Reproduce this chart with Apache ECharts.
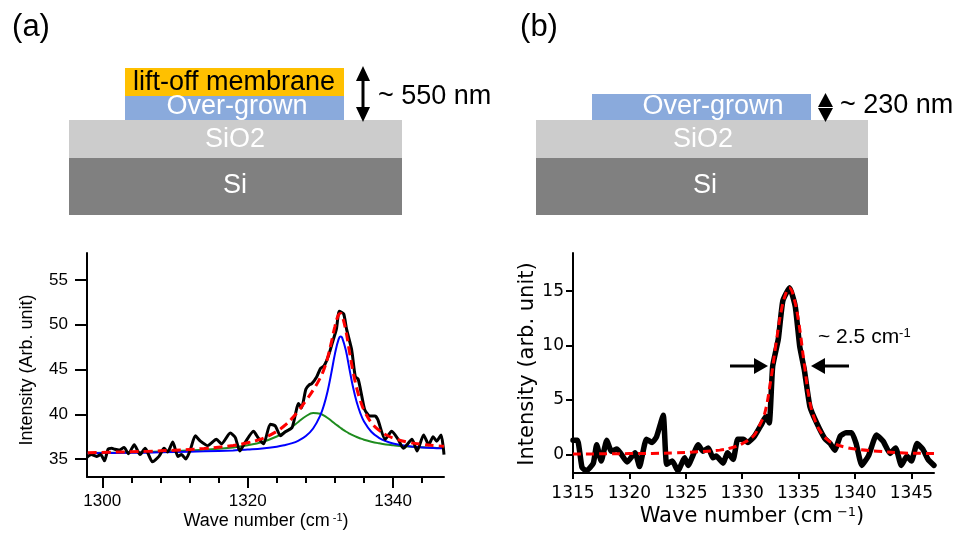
<!DOCTYPE html>
<html><head><meta charset="utf-8">
<script src="https://cdn.jsdelivr.net/npm/echarts@6/dist/echarts.min.js"></script>
<style>html,body{margin:0;padding:0;background:#fff}#c{width:958px;height:536px}</style>
</head><body><div id="c"></div>
<script>
// ---------- Panel (a) data ----------
const waveA = [1297.9,1298.5,1299.2,1299.8,1300.3,1300.8,1301.3,1301.7,1302.3,1303.0,1303.6,1304.4,1305.2,1305.9,1306.9,1307.8,1308.5,1309.0,1309.7,1310.4,1310.9,1311.5,1312.1,1312.8,1313.5,1314.5,1315.7,1316.4,1317.6,1318.3,1318.9,1319.6,1320.8,1321.5,1322.2,1323.1,1323.8,1324.5,1325.1,1326.1,1327.0,1327.4,1328.0,1328.5,1328.8,1329.5,1330.0,1330.5,1331.1,1331.8,1332.2,1332.6,1333.2,1333.6,1334.3,1334.8,1335.2,1335.7,1336.1,1336.8,1337.5,1337.9,1338.9,1339.8,1340.7,1341.4,1342.6,1343.3,1344.2,1344.9,1345.5,1346.0,1346.6,1346.9,1347.0];
const intensA = [35.2,35.5,35.3,35.5,34.8,36.1,36.2,36.1,36.0,36.3,35.6,36.6,35.5,36.2,34.7,35.3,36.2,35.8,36.9,35.3,35.5,35.0,36.0,37.6,37.0,36.5,37.2,36.7,37.9,37.4,35.9,36.8,38.1,37.3,36.7,38.9,38.7,37.6,38.0,38.5,41.2,40.7,42.8,43.3,43.4,44.2,45.1,45.4,46.5,48.4,49.5,51.5,51.2,49.5,47.2,44.2,43.9,42.0,40.5,39.8,39.8,39.4,37.2,38.1,37.2,36.2,37.2,35.9,37.7,36.6,37.5,37.0,37.7,36.3,35.5];
const fitWaveA = [1298,1302,1306,1310,1314,1318,1320,1322,1324,1325,1326,1327,1328,1329,1330,1330.5,1331,1331.5,1332,1332.5,1332.8,1333,1333.5,1334,1334.5,1335,1335.5,1336,1337,1338,1339,1340,1342,1344,1346,1347];
const fitA = [35.72,35.78,35.86,35.99,36.18,36.51,36.82,37.28,38.09,38.69,39.46,40.41,41.51,42.69,44.09,45.04,46.32,48.0,49.82,51.13,51.26,51.0,49.34,46.98,44.73,42.9,41.51,40.45,39.07,38.25,37.71,37.34,36.89,36.64,36.49,36.44];
const peakHighA = [35.64,35.68,35.72,35.79,35.86,35.97,36.06,36.17,36.38,36.54,36.75,37.07,37.57,38.41,39.9,41.05,42.6,44.59,46.74,48.36,48.67,48.53,47.14,45.02,42.98,41.34,40.11,39.2,38.05,37.4,37.0,36.74,36.45,36.3,36.22,36.2];
const peakLowA = [35.68,35.73,35.8,35.9,36.04,36.3,36.54,36.9,37.52,37.97,38.53,39.17,39.78,40.13,40.05,39.85,39.58,39.28,38.95,38.65,38.47,38.35,38.08,37.85,37.64,37.46,37.3,37.16,36.94,36.77,36.63,36.54,36.4,36.31,36.25,36.23];
const xLabelsA = [1300,1320,1340];
const xMinorTicksA = [1300,1304,1308,1312,1316,1320,1324,1328,1332,1336,1340,1344];
const yLabelsA = [35,40,45,50,55];

// ---------- Panel (b) data ----------
const waveB = [1315.0,1315.4,1315.8,1316.2,1316.8,1317.1,1317.5,1318.0,1318.4,1318.9,1319.8,1320.5,1320.9,1321.5,1322.0,1322.4,1323.0,1323.3,1323.8,1324.3,1324.9,1325.2,1326.1,1326.5,1327.0,1327.4,1327.7,1328.3,1328.7,1329.2,1329.6,1330.1,1330.5,1331.1,1331.7,1332.1,1332.4,1332.7,1333.2,1333.6,1334.2,1334.7,1335.1,1335.5,1336.0,1336.6,1337.3,1337.8,1338.2,1338.7,1339.2,1339.7,1340.1,1340.6,1341.2,1341.9,1342.5,1343.1,1343.6,1344.1,1344.6,1345.0,1345.5,1346.0,1346.5,1347.0];
const intensB = [1.3,1.3,-1.2,-1.5,-0.8,0.9,-0.6,1.3,0.3,0.5,-0.7,0.15,-1.1,1.4,1.1,1.6,3.6,-0.9,-0.6,-1.5,-0.3,-1.0,0.9,0.3,0.6,-0.3,-0.15,-0.8,0.15,-0.45,1.4,1.4,1.1,1.7,2.75,3.5,2.9,8.1,10.6,14.1,15.3,13.6,9.9,7.8,4.4,2.9,1.5,1.0,0.4,1.7,2.0,2.0,1.0,-1.0,-0.1,1.8,1.2,0.1,0.6,-1.0,-0.15,-0.6,1.0,0.5,-0.5,-1.0];
const fitWaveB = [1315,1318,1320,1322,1324,1326,1328,1329,1330,1331,1331.5,1332,1332.5,1333,1333.5,1334,1334.15,1334.5,1335,1335.5,1336,1336.5,1337,1337.5,1338,1339,1340,1342,1344,1346,1347];
const fitB = [0.05,0.06,0.08,0.1,0.15,0.25,0.4,0.6,1.0,1.7,2.6,3.8,6.6,10.2,13.4,15.2,15.3,14.7,12.2,8.3,4.8,3.0,2.0,1.4,1.05,0.7,0.5,0.3,0.15,0.1,0.08];
const yLabelsB = [0,5,10,15];

const pairs = (xs, ys) => xs.map((x, i) => [x, ys[i]]);
const plain = v => String(v);

const FA = 'Liberation Sans, Arial, sans-serif';
const FB = 'DejaVu Sans, Verdana, sans-serif';

const chart = echarts.init(document.getElementById('c'), null, {renderer: 'canvas'});

function txt(x, y, text, size, color, family, extra) {
  return Object.assign({
    type: 'text', x: x, y: y, z: 100,
    style: Object.assign({
      text: text, fill: color, fontSize: size, fontFamily: family || FA,
      align: 'center', verticalAlign: 'middle',
      textAlign: 'center', textVerticalAlign: 'middle'
    }, (extra && extra.style) || {})
  }, (extra && extra.el) || {});
}
function rect(x, y, w, h, color) {
  return {type: 'rect', shape: {x: x, y: y, width: w, height: h}, style: {fill: color}, z: 10};
}
function poly(points) {
  return {type: 'polygon', shape: {points: points}, style: {fill: '#000'}, z: 20};
}
function seg(x1, y1, x2, y2, w) {
  return {type: 'line', shape: {x1: x1, y1: y1, x2: x2, y2: y2}, style: {stroke: '#000', lineWidth: w}, z: 20};
}

const graphics = [
  txt(31, 27, '(a)', 31, '#000'),
  txt(539, 27, '(b)', 31, '#000'),
  // (a) layer stack
  rect(125, 68, 219, 28, '#FFC000'),
  rect(125, 96, 219, 24, '#8AAADC'),
  rect(69, 120, 333, 38, '#CCCCCC'),
  rect(69, 158, 333, 57, '#808080'),
  txt(234, 83, 'lift-off membrane', 27, '#000'),
  txt(237, 107, 'Over-grown', 27, '#fff'),
  txt(235, 140, 'SiO2', 27, '#fff'),
  txt(235, 186, 'Si', 27, '#fff'),
  seg(363, 76, 363, 112, 3),
  poly([[363, 66], [356, 81], [370, 81]]),
  poly([[363, 122], [356, 107], [370, 107]]),
  txt(378, 97, '~ 550 nm', 27, '#000', FA, {style: {align: 'left', textAlign: 'left'}}),
  // (b) layer stack
  rect(592, 94, 219, 26, '#8AAADC'),
  rect(536, 120, 332, 38, '#CCCCCC'),
  rect(536, 158, 332, 57, '#808080'),
  txt(713, 107, 'Over-grown', 27, '#fff'),
  txt(703, 140, 'SiO2', 27, '#fff'),
  txt(705, 186, 'Si', 27, '#fff'),
  poly([[825.5, 93], [818, 107], [833, 107]]),
  poly([[825.5, 122], [818, 108], [833, 108]]),
  txt(840, 106, '~ 230 nm', 27, '#000', FA, {style: {align: 'left', textAlign: 'left'}}),
  // (a) axis titles
  txt(27, 370, 'Intensity (Arb. unit)', 18, '#000', FA, {el: {rotation: Math.PI / 2}}),
  txt(266, 521, 'Wave number (cm{s| -1})', 18, '#000', FA,
      {style: {rich: {s: {fontSize: 11, fontFamily: FA, verticalAlign: 'top', fill: '#000'}}}}),
  // (b) axis titles
  txt(528, 364, 'Intensity (arb. unit)', 21, '#000', FB, {el: {rotation: Math.PI / 2}}),
  txt(752, 517, 'Wave number (cm{s| \u22121})', 21, '#000', FB,
      {style: {rich: {s: {fontSize: 13, fontFamily: FB, verticalAlign: 'top', fill: '#000'}}}}),
  // (b) FWHM annotation
  seg(730, 366, 756, 366, 3),
  poly([[768, 366], [754, 358], [754, 374]]),
  seg(824, 366, 849, 366, 3),
  poly([[811, 366], [825, 358], [825, 374]]),
  txt(818, 337, '~ 2.5 cm{s|-1}', 21, '#000', FA,
      {style: {align: 'left', textAlign: 'left', rich: {s: {fontSize: 13, fontFamily: FA, verticalAlign: 'top', fill: '#000'}}}})
];

const option = {
  animation: false,
  backgroundColor: '#fff',
  grid: [
    {left: 87, top: 253, width: 357, height: 224, containLabel: false},
    {left: 573, top: 253, width: 361, height: 220, containLabel: false}
  ],
  xAxis: [
    {
      type: 'value', gridIndex: 0, min: 1297.9, max: 1347, position: 'bottom',
      axisLine: {show: true, onZero: false, lineStyle: {color: '#000', width: 2}},
      axisTick: {show: true, inside: false, length: 11, customValues: xLabelsA, lineStyle: {color: '#000', width: 2}},
      axisLabel: {customValues: xLabelsA, formatter: plain, margin: 16, color: '#000', fontSize: 17, fontFamily: FA},
      splitLine: {show: false}
    },
    {
      type: 'value', gridIndex: 0, min: 1297.9, max: 1347, position: 'bottom', offset: 0,
      axisLine: {show: false, onZero: false},
      axisTick: {show: true, inside: false, length: 6, customValues: xMinorTicksA, lineStyle: {color: '#000', width: 2}},
      axisLabel: {show: false},
      splitLine: {show: false}
    },
    {
      type: 'value', gridIndex: 1, min: 1315, max: 1347, interval: 5, position: 'bottom',
      axisLine: {show: true, onZero: false, lineStyle: {color: '#000', width: 2}},
      axisTick: {show: true, inside: false, length: 6, lineStyle: {color: '#000', width: 2}},
      axisLabel: {formatter: plain, margin: 12, color: '#000', fontSize: 17, fontFamily: FB, showMaxLabel: false},
      splitLine: {show: false}
    }
  ],
  yAxis: [
    {
      type: 'value', gridIndex: 0, min: 33, max: 58,
      axisLine: {show: true, onZero: false, lineStyle: {color: '#000', width: 2}},
      axisTick: {show: true, inside: false, length: 12, customValues: yLabelsA, lineStyle: {color: '#000', width: 2}},
      axisLabel: {customValues: yLabelsA, formatter: plain, margin: 19, color: '#000', fontSize: 17, fontFamily: FA},
      splitLine: {show: false}
    },
    {
      type: 'value', gridIndex: 1, min: -1.7, max: 18.5,
      axisLine: {show: true, onZero: false, lineStyle: {color: '#000', width: 2}},
      axisTick: {show: true, inside: false, length: 7, customValues: yLabelsB, lineStyle: {color: '#000', width: 2}},
      axisLabel: {customValues: yLabelsB, formatter: plain, margin: 9, color: '#000', fontSize: 17, fontFamily: FB},
      splitLine: {show: false}
    }
  ],
  series: [
    {type: 'line', xAxisIndex: 0, yAxisIndex: 0, data: pairs(fitWaveA, peakLowA), showSymbol: false, smooth: 0.4,
     lineStyle: {color: '#1E8C1E', width: 2}, z: 2},
    {type: 'line', xAxisIndex: 0, yAxisIndex: 0, data: pairs(fitWaveA, peakHighA), showSymbol: false, smooth: 0.4,
     lineStyle: {color: '#0000FF', width: 2}, z: 3},
    {type: 'line', xAxisIndex: 0, yAxisIndex: 0, data: pairs(waveA, intensA), showSymbol: false, smooth: 0.2,
     lineStyle: {color: '#000', width: 3}, z: 4},
    {type: 'line', xAxisIndex: 0, yAxisIndex: 0, data: pairs(fitWaveA, fitA), showSymbol: false, smooth: 0.4,
     lineStyle: {color: '#FF0000', width: 3, type: [9, 5]}, z: 5},
    {type: 'line', xAxisIndex: 2, yAxisIndex: 1, data: pairs(waveB, intensB), showSymbol: false, smooth: 0.15,
     lineStyle: {color: '#000', width: 5.5, join: 'round', cap: 'round'}, z: 4},
    {type: 'line', xAxisIndex: 2, yAxisIndex: 1, data: pairs(fitWaveB, fitB), showSymbol: false, smooth: 0.4,
     lineStyle: {color: '#FF0000', width: 3, type: [8, 5]}, z: 5}
  ],
  graphic: graphics
};
chart.setOption(option);
</script>
</body></html>
